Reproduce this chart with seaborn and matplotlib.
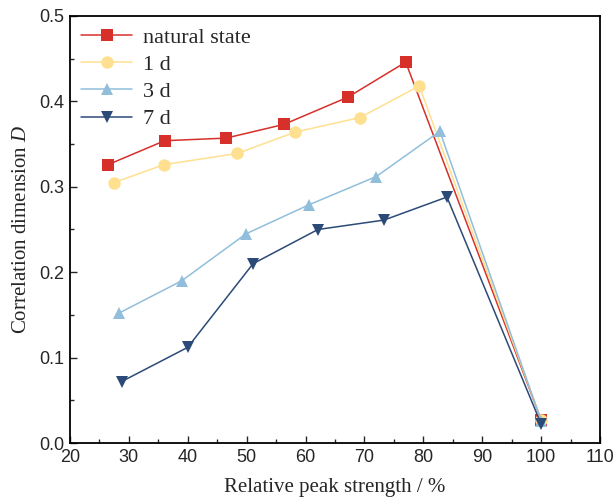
import matplotlib
matplotlib.use("Agg")
import matplotlib.pyplot as plt
import seaborn as sns
import pandas as pd
from matplotlib.ticker import MultipleLocator

labels = ["natural state", "1 d", "3 d", "7 d"]
x_natural = [26.5, 36.1, 46.5, 56.3, 67.2, 77.0, 100.0]
y_natural = [0.326, 0.354, 0.357, 0.373, 0.405, 0.446, 0.027]
x_1d = [27.5, 36.0, 48.4, 58.2, 69.2, 79.3, 100.0]
y_1d = [0.305, 0.326, 0.339, 0.364, 0.381, 0.418, 0.027]
x_3d = [28.3, 39.0, 49.9, 60.6, 72.0, 82.8, 100.0]
y_3d = [0.152, 0.190, 0.245, 0.279, 0.312, 0.365, 0.026]
x_7d = [28.8, 40.0, 51.1, 62.1, 73.3, 84.0, 100.0]
y_7d = [0.072, 0.112, 0.210, 0.250, 0.261, 0.288, 0.022]

colors = ["#d7302a", "#fee090", "#91bfdb", "#2c4a78"]
markers = ["s", "o", "^", "v"]

sns.set_style("ticks")
plt.rcParams["font.family"] = ["Liberation Sans", "DejaVu Sans"]
plt.rcParams["mathtext.fontset"] = "custom"
plt.rcParams["mathtext.it"] = "Liberation Serif:italic"
plt.rcParams["mathtext.rm"] = "Liberation Serif"

fig = plt.figure(figsize=(6.13, 5.0), dpi=100)
ax = fig.add_axes([0.114, 0.114, 0.865, 0.854])

series = [(x_natural, y_natural), (x_1d, y_1d), (x_3d, y_3d), (x_7d, y_7d)]
for (xs, ys), lab, c, m in zip(series, labels, colors, markers):
    df = pd.DataFrame({"x": xs, "y": ys})
    sns.lineplot(data=df, x="x", y="y", ax=ax, color=c, marker=m, markersize=9,
                 markeredgewidth=0, linewidth=1.1, label=lab, sort=False)

ax.set_xlim(20, 110)
ax.set_ylim(0, 0.5)
ax.xaxis.set_major_locator(MultipleLocator(10))
ax.xaxis.set_minor_locator(MultipleLocator(5))
ax.yaxis.set_major_locator(MultipleLocator(0.1))
ax.yaxis.set_minor_locator(MultipleLocator(0.05))
ax.tick_params(which="both", direction="in", top=False, right=False, labelsize=13, width=1)
ax.tick_params(which="major", length=5, pad=4)
ax.tick_params(which="minor", length=3)
for s in ax.spines.values():
    s.set_visible(True)
    s.set_linewidth(1.3)
    s.set_color("black")

ax.set_xlabel("Relative peak strength / %", fontsize=15, family="Liberation Serif", labelpad=9)
ax.set_ylabel("Correlation dimension $\\it{D}$", fontsize=15, family="Liberation Serif", labelpad=6)

leg = ax.legend(loc="upper left", frameon=False, prop={"family": "Liberation Serif", "size": 16},
                handlelength=2.3, handletextpad=0.5, borderaxespad=0.1, labelspacing=0.3)

fig.savefig("out.png", dpi=100)
